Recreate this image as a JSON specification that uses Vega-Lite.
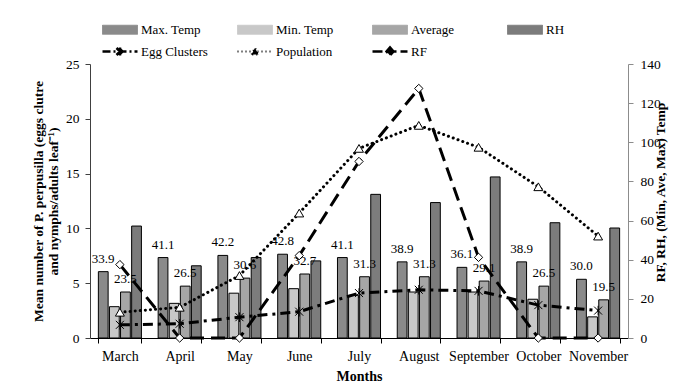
{
  "$schema": "https://vega.github.io/schema/vega-lite/v6.json",
  "width": 538,
  "height": 274,
  "autosize": {"type": "none"},
  "padding": {"left": 90, "top": 64, "right": 54, "bottom": 47},
  "background": "white",
  "config": {
    "font": "Liberation Serif",
    "view": {"stroke": null},
    "axis": {"labelFont": "Liberation Serif", "titleFont": "Liberation Serif", "labelColor": "black", "titleColor": "black", "grid": false},
    "legend": {"labelFont": "Liberation Serif"}
  },
  "datasets": {
    "bars": [
      {"month": "March", "series": "Max. Temp", "value": 33.9},
      {"month": "March", "series": "Min. Temp", "value": 16.0},
      {"month": "March", "series": "Average", "value": 23.5},
      {"month": "March", "series": "RH", "value": 57.2},
      {"month": "April", "series": "Max. Temp", "value": 41.1},
      {"month": "April", "series": "Min. Temp", "value": 17.7},
      {"month": "April", "series": "Average", "value": 26.5},
      {"month": "April", "series": "RH", "value": 36.9},
      {"month": "May", "series": "Max. Temp", "value": 42.2},
      {"month": "May", "series": "Min. Temp", "value": 22.9},
      {"month": "May", "series": "Average", "value": 30.6},
      {"month": "May", "series": "RH", "value": 41.1},
      {"month": "June", "series": "Max. Temp", "value": 42.8},
      {"month": "June", "series": "Min. Temp", "value": 25.2},
      {"month": "June", "series": "Average", "value": 32.7},
      {"month": "June", "series": "RH", "value": 39.4},
      {"month": "July", "series": "Max. Temp", "value": 41.1},
      {"month": "July", "series": "Min. Temp", "value": 21.8},
      {"month": "July", "series": "Average", "value": 31.3},
      {"month": "July", "series": "RH", "value": 73.4},
      {"month": "August", "series": "Max. Temp", "value": 38.9},
      {"month": "August", "series": "Min. Temp", "value": 23.5},
      {"month": "August", "series": "Average", "value": 31.3},
      {"month": "August", "series": "RH", "value": 69.2},
      {"month": "September", "series": "Max. Temp", "value": 36.1},
      {"month": "September", "series": "Min. Temp", "value": 23.5},
      {"month": "September", "series": "Average", "value": 29.1},
      {"month": "September", "series": "RH", "value": 82.3},
      {"month": "October", "series": "Max. Temp", "value": 38.9},
      {"month": "October", "series": "Min. Temp", "value": 19.8},
      {"month": "October", "series": "Average", "value": 26.5},
      {"month": "October", "series": "RH", "value": 58.9},
      {"month": "November", "series": "Max. Temp", "value": 30.0},
      {"month": "November", "series": "Min. Temp", "value": 10.8},
      {"month": "November", "series": "Average", "value": 19.5},
      {"month": "November", "series": "RH", "value": 56.2}
    ],
    "lines": [
      {"month": "March", "series": "RF", "value": 37.5},
      {"month": "April", "series": "RF", "value": 0},
      {"month": "May", "series": "RF", "value": 0},
      {"month": "June", "series": "RF", "value": 42.1},
      {"month": "July", "series": "RF", "value": 90.2},
      {"month": "August", "series": "RF", "value": 127.5},
      {"month": "September", "series": "RF", "value": 41.2},
      {"month": "October", "series": "RF", "value": 0},
      {"month": "November", "series": "RF", "value": 0},
      {"month": "March", "series": "Population", "value": 2.35},
      {"month": "April", "series": "Population", "value": 2.8},
      {"month": "May", "series": "Population", "value": 5.7},
      {"month": "June", "series": "Population", "value": 11.4},
      {"month": "July", "series": "Population", "value": 17.3},
      {"month": "August", "series": "Population", "value": 19.4},
      {"month": "September", "series": "Population", "value": 17.4},
      {"month": "October", "series": "Population", "value": 13.8},
      {"month": "November", "series": "Population", "value": 9.3},
      {"month": "March", "series": "Egg Clusters", "value": 1.2},
      {"month": "April", "series": "Egg Clusters", "value": 1.3},
      {"month": "May", "series": "Egg Clusters", "value": 1.9},
      {"month": "June", "series": "Egg Clusters", "value": 2.4},
      {"month": "July", "series": "Egg Clusters", "value": 4.1},
      {"month": "August", "series": "Egg Clusters", "value": 4.4},
      {"month": "September", "series": "Egg Clusters", "value": 4.3},
      {"month": "October", "series": "Egg Clusters", "value": 3.0},
      {"month": "November", "series": "Egg Clusters", "value": 2.5}
    ]
  },
  "encoding": {
    "x": {
      "field": "month",
      "type": "nominal",
      "sort": ["March", "April", "May", "June", "July", "August", "September", "October", "November"],
      "scale": {"paddingInner": 0.28, "paddingOuter": 0.14},
      "axis": {
        "title": "Months",
        "titleFontWeight": "bold",
        "titleFontSize": 14,
        "titlePadding": 6,
        "labelFontSize": 14,
        "labelAngle": 0,
        "labelPadding": 6,
        "tickBand": "extent",
        "tickSize": 5,
        "domainColor": "black",
        "tickColor": "black"
      }
    }
  },
  "layer": [
    {
      "encoding": {
        "y": {
          "field": "value",
          "type": "quantitative",
          "scale": {"domain": [0, 140], "nice": false},
          "axis": {
            "orient": "right",
            "values": [0, 20, 40, 60, 80, 100, 120, 140],
            "title": "RF, RH, (Min, Ave, Max) Temp",
            "titleAngle": 270,
            "titleY": 128,
            "titleFontWeight": "bold",
            "titleFontSize": 13.5,
            "titlePadding": 7,
            "labelFontSize": 13.5,
            "labelPadding": 7,
            "tickSize": 5,
            "domainColor": "#8c8c8c",
            "tickColor": "#8c8c8c"
          }
        }
      },
      "layer": [
        {
          "data": {"name": "bars"},
          "mark": {"type": "bar", "stroke": "black", "strokeWidth": 1},
          "encoding": {
            "xOffset": {"field": "series", "type": "nominal", "scale": {"domain": ["Max. Temp", "Min. Temp", "Average", "RH"], "paddingInner": 0.12}},
            "color": {
              "field": "series",
              "type": "nominal",
              "scale": {
                "domain": ["Max. Temp", "Min. Temp", "Average", "RH", "Egg Clusters", "Population", "RF"],
                "range": ["#8a8a8a", "#c8c8c8", "#a6a6a6", "#7c7c7c", "black", "black", "black"]
              },
              "legend": {
                "orient": "none",
                "direction": "horizontal",
                "legendX": 11,
                "legendY": -42,
                "title": null,
                "columns": 4,
                "gridAlign": "all",
                "columnPadding": 24,
                "rowPadding": 4,
                "padding": 0,
                "symbolSize": 100,
                "symbolType": "M-1,-0.9H6V0.9H-1Z",
                "symbolStrokeColor": "black",
                "symbolStrokeWidth": 1,
                "labelFontSize": 13,
                "labelColor": "black",
                "labelOffset": 27,
                "symbolOffset": 0,
                "encode": {
                  "symbols": {
                    "update": {
                      "shape": {"signal": "datum.value=='Egg Clusters' ? 'M-1,0H6M1.8,-0.7L3.2,0.7M1.8,0.7L3.2,-0.7M2.5,-0.8V0.8' : datum.value=='Population' ? 'M-1,0H6M1.8,0.6L2.5,-0.7L3.2,0.6Z' : datum.value=='RF' ? 'M-1,0H6M2.5,-0.8L3.2,0L2.5,0.8L1.8,0Z' : 'M-1,-0.9H6V0.9H-1Z'"},
                      "stroke": {"value": "black"},
                      "strokeWidth": {"signal": "datum.value=='Egg Clusters' || datum.value=='RF' ? 2.5 : datum.value=='Population' ? 2 : 1"},
                      "strokeDash": {"signal": "datum.value=='Egg Clusters' ? [8,3,2,3] : datum.value=='RF' ? [10,4] : datum.value=='Population' ? [1,3] : [1,0]"},
                      "opacity": {"value": 1}
                    }
                  }
                }
              }
            }
          }
        },
        {
          "data": {"name": "bars"},
          "transform": [{"filter": "datum.series == 'Max. Temp' || datum.series == 'Average'"}],
          "mark": {"type": "text", "baseline": "alphabetic", "dy": -9, "fontSize": 13, "font": "Liberation Serif", "color": "black"},
          "encoding": {
            "xOffset": {"field": "series", "type": "nominal", "scale": {"domain": ["Max. Temp", "Min. Temp", "Average", "RH"], "paddingInner": 0.12}},
            "text": {"field": "value", "type": "quantitative", "format": ".1f"}
          }
        },
        {
          "data": {"name": "lines"},
          "transform": [{"filter": "datum.series == 'RF'"}],
          "mark": {"type": "line", "strokeDash": [14, 7], "strokeWidth": 3},
          "encoding": {
            "color": {
              "field": "series",
              "type": "nominal",
              "scale": {
                "domain": ["Max. Temp", "Min. Temp", "Average", "RH", "Egg Clusters", "Population", "RF"],
                "range": ["#8a8a8a", "#c8c8c8", "#a6a6a6", "#7c7c7c", "black", "black", "black"]
              },
              "legend": {
                "orient": "none",
                "direction": "horizontal",
                "legendX": 11,
                "legendY": -42,
                "title": null,
                "columns": 4,
                "gridAlign": "all",
                "columnPadding": 24,
                "rowPadding": 4,
                "padding": 0,
                "symbolSize": 100,
                "symbolType": "M-1,-0.9H6V0.9H-1Z",
                "symbolStrokeColor": "black",
                "symbolStrokeWidth": 1,
                "labelFontSize": 13,
                "labelColor": "black",
                "labelOffset": 27,
                "symbolOffset": 0,
                "encode": {
                  "symbols": {
                    "update": {
                      "shape": {"signal": "datum.value=='Egg Clusters' ? 'M-1,0H6M1.8,-0.7L3.2,0.7M1.8,0.7L3.2,-0.7M2.5,-0.8V0.8' : datum.value=='Population' ? 'M-1,0H6M1.8,0.6L2.5,-0.7L3.2,0.6Z' : datum.value=='RF' ? 'M-1,0H6M2.5,-0.8L3.2,0L2.5,0.8L1.8,0Z' : 'M-1,-0.9H6V0.9H-1Z'"},
                      "stroke": {"value": "black"},
                      "strokeWidth": {"signal": "datum.value=='Egg Clusters' || datum.value=='RF' ? 2.5 : datum.value=='Population' ? 2 : 1"},
                      "strokeDash": {"signal": "datum.value=='Egg Clusters' ? [8,3,2,3] : datum.value=='RF' ? [10,4] : datum.value=='Population' ? [1,3] : [1,0]"},
                      "opacity": {"value": 1}
                    }
                  }
                }
              }
            }
          }
        },
        {
          "data": {"name": "lines"},
          "transform": [{"filter": "datum.series == 'RF'"}],
          "mark": {"type": "point", "shape": "diamond", "filled": true, "fill": "white", "stroke": "black", "strokeWidth": 1, "size": 70, "opacity": 1},
          "encoding": {}
        }
      ]
    },
    {
      "encoding": {
        "y": {
          "field": "value",
          "type": "quantitative",
          "scale": {"domain": [0, 25], "nice": false},
          "axis": {
            "orient": "left",
            "values": [0, 5, 10, 15, 20, 25],
            "title": ["Mean number of P. perpusilla (eggs clutre", "and nymphs/adults leaf⁻¹)"],
            "titleFontWeight": "bold",
            "titleFontSize": 13.5,
            "titleLineHeight": 15,
            "titlePadding": 5,
            "labelFontSize": 13.5,
            "labelPadding": 6,
            "tickSize": 5,
            "domainColor": "#404040",
            "tickColor": "#404040"
          }
        }
      },
      "layer": [
        {
          "data": {"name": "lines"},
          "transform": [{"filter": "datum.series == 'Population'"}],
          "mark": {"type": "line", "strokeDash": [0.1, 5], "strokeWidth": 3, "strokeCap": "round"},
          "encoding": {
            "color": {
              "field": "series",
              "type": "nominal",
              "scale": {
                "domain": ["Max. Temp", "Min. Temp", "Average", "RH", "Egg Clusters", "Population", "RF"],
                "range": ["#8a8a8a", "#c8c8c8", "#a6a6a6", "#7c7c7c", "black", "black", "black"]
              },
              "legend": {
                "orient": "none",
                "direction": "horizontal",
                "legendX": 11,
                "legendY": -42,
                "title": null,
                "columns": 4,
                "gridAlign": "all",
                "columnPadding": 24,
                "rowPadding": 4,
                "padding": 0,
                "symbolSize": 100,
                "symbolType": "M-1,-0.9H6V0.9H-1Z",
                "symbolStrokeColor": "black",
                "symbolStrokeWidth": 1,
                "labelFontSize": 13,
                "labelColor": "black",
                "labelOffset": 27,
                "symbolOffset": 0,
                "encode": {
                  "symbols": {
                    "update": {
                      "shape": {"signal": "datum.value=='Egg Clusters' ? 'M-1,0H6M1.8,-0.7L3.2,0.7M1.8,0.7L3.2,-0.7M2.5,-0.8V0.8' : datum.value=='Population' ? 'M-1,0H6M1.8,0.6L2.5,-0.7L3.2,0.6Z' : datum.value=='RF' ? 'M-1,0H6M2.5,-0.8L3.2,0L2.5,0.8L1.8,0Z' : 'M-1,-0.9H6V0.9H-1Z'"},
                      "stroke": {"value": "black"},
                      "strokeWidth": {"signal": "datum.value=='Egg Clusters' || datum.value=='RF' ? 2.5 : datum.value=='Population' ? 2 : 1"},
                      "strokeDash": {"signal": "datum.value=='Egg Clusters' ? [8,3,2,3] : datum.value=='RF' ? [10,4] : datum.value=='Population' ? [1,3] : [1,0]"},
                      "opacity": {"value": 1}
                    }
                  }
                }
              }
            }
          }
        },
        {
          "data": {"name": "lines"},
          "transform": [{"filter": "datum.series == 'Egg Clusters'"}],
          "mark": {"type": "line", "strokeDash": [10, 5, 3, 5], "strokeWidth": 3},
          "encoding": {
            "color": {
              "field": "series",
              "type": "nominal",
              "scale": {
                "domain": ["Max. Temp", "Min. Temp", "Average", "RH", "Egg Clusters", "Population", "RF"],
                "range": ["#8a8a8a", "#c8c8c8", "#a6a6a6", "#7c7c7c", "black", "black", "black"]
              },
              "legend": {
                "orient": "none",
                "direction": "horizontal",
                "legendX": 11,
                "legendY": -42,
                "title": null,
                "columns": 4,
                "gridAlign": "all",
                "columnPadding": 24,
                "rowPadding": 4,
                "padding": 0,
                "symbolSize": 100,
                "symbolType": "M-1,-0.9H6V0.9H-1Z",
                "symbolStrokeColor": "black",
                "symbolStrokeWidth": 1,
                "labelFontSize": 13,
                "labelColor": "black",
                "labelOffset": 27,
                "symbolOffset": 0,
                "encode": {
                  "symbols": {
                    "update": {
                      "shape": {"signal": "datum.value=='Egg Clusters' ? 'M-1,0H6M1.8,-0.7L3.2,0.7M1.8,0.7L3.2,-0.7M2.5,-0.8V0.8' : datum.value=='Population' ? 'M-1,0H6M1.8,0.6L2.5,-0.7L3.2,0.6Z' : datum.value=='RF' ? 'M-1,0H6M2.5,-0.8L3.2,0L2.5,0.8L1.8,0Z' : 'M-1,-0.9H6V0.9H-1Z'"},
                      "stroke": {"value": "black"},
                      "strokeWidth": {"signal": "datum.value=='Egg Clusters' || datum.value=='RF' ? 2.5 : datum.value=='Population' ? 2 : 1"},
                      "strokeDash": {"signal": "datum.value=='Egg Clusters' ? [8,3,2,3] : datum.value=='RF' ? [10,4] : datum.value=='Population' ? [1,3] : [1,0]"},
                      "opacity": {"value": 1}
                    }
                  }
                }
              }
            }
          }
        },
        {
          "data": {"name": "lines"},
          "transform": [{"filter": "datum.series == 'Population'"}],
          "mark": {"type": "point", "shape": "triangle-up", "filled": true, "fill": "white", "stroke": "black", "strokeWidth": 1, "size": 80, "opacity": 1},
          "encoding": {}
        },
        {
          "data": {"name": "lines"},
          "transform": [{"filter": "datum.series == 'Egg Clusters'"}],
          "mark": {"type": "point", "shape": "M-1,-1L1,1M-1,1L1,-1M0,-1.2L0,1.2", "filled": false, "stroke": "black", "strokeWidth": 1, "size": 64, "opacity": 1},
          "encoding": {}
        }
      ]
    }
  ],
  "resolve": {"scale": {"y": "independent"}}
}
